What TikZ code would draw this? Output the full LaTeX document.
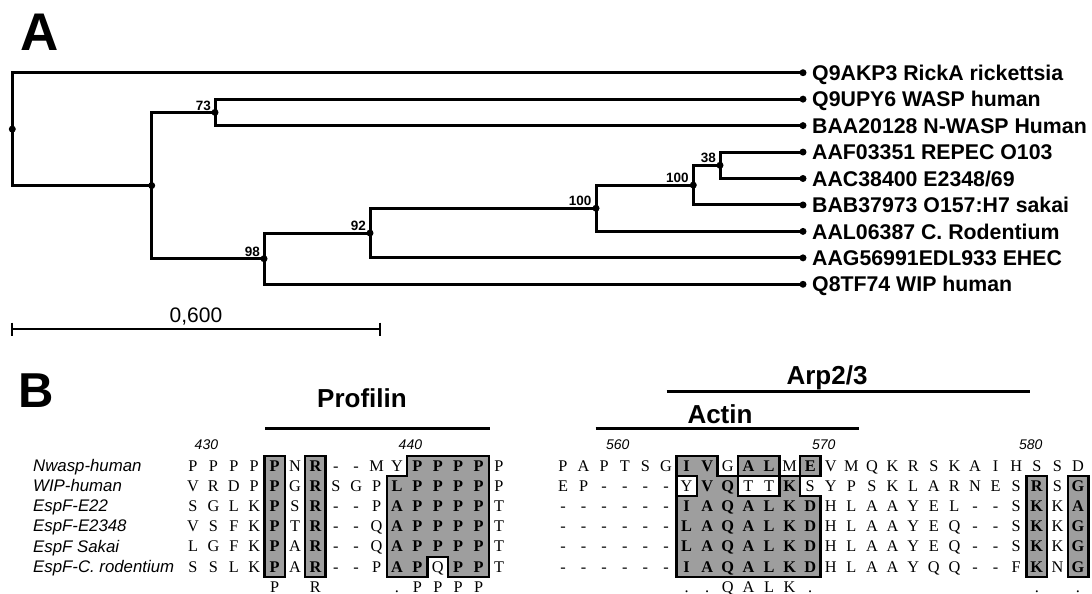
\documentclass[tikz,border=0pt]{standalone}
\usepackage{fontspec}
\setmainfont{Liberation Serif}
\setsansfont{Liberation Sans}
\usetikzlibrary{calc}

\definecolor{boxgrey}{RGB}{158,158,158}
\newcommand\fsz[1]{\fontsize{#1}{#1}\selectfont}
% residue font: bold for conserved (shaded) positions
\newcommand\resfont[1]{\fsz{16.3}\rmfamily\if#1b\bfseries\else\mdseries\fi}

\tikzset{
  branch/.style={line width=3pt, line join=miter, line cap=butt},
  dot/.style={circle, fill=black, inner sep=0pt, minimum size=7pt},
  leaflab/.style={anchor=base west, inner sep=0pt, font=\sffamily\bfseries\fsz{21.3}},
  boot/.style={anchor=south east, inner sep=0pt, font=\sffamily\bfseries\fsz{13.5}},
  res/.style={anchor=base, inner sep=0pt},
  seqname/.style={anchor=base west, inner sep=0pt, font=\sffamily\itshape\fsz{16.8}},
  posnum/.style={anchor=base, inner sep=0pt, font=\sffamily\itshape\fsz{14}},
  domlabel/.style={anchor=base, inner sep=0pt, font=\sffamily\bfseries\fsz{26}},
  domline/.style={line width=3pt},
  scalebar/.style={line width=2.5pt},
  panel/.style={anchor=base west, inner sep=0pt, font=\sffamily\bfseries\fsz{#1}},
  shadebox/.style={fill=boxgrey, draw=black, line width=2.4pt, line join=miter},
  outline/.style={draw=black, line width=2.4pt, line cap=rect},
}

\begin{document}
\begin{tikzpicture}[x=1pt, y=-1pt]
\useasboundingbox (0,0) rectangle (1092,594);
\fill[white] (0,0) rectangle (1092,594);

% ---------------- Panel A: tree ----------------
\node[panel=53] (labA) at (20,51) {A};

% leaves
\node[dot] (l1) at (803,72.7) {};
\node[dot] (l2) at (803,99.15) {};
\node[dot] (l3) at (803,125.6) {};
\node[dot] (l4) at (803,152.05) {};
\node[dot] (l5) at (803,178.5) {};
\node[dot] (l6) at (803,204.95) {};
\node[dot] (l7) at (803,231.4) {};
\node[dot] (l8) at (803,257.85) {};
\node[dot] (l9) at (803,284.3) {};

\node[leaflab] (t1) at (812,80.3) {Q9AKP3 RickA rickettsia};
\node[leaflab] (t2) at (812,106.75) {Q9UPY6 WASP human};
\node[leaflab] (t3) at (812,133.2) {BAA20128 N-WASP Human};
\node[leaflab] (t4) at (812,159.65) {AAF03351 REPEC O103};
\node[leaflab] (t5) at (812,186.1) {AAC38400 E2348/69};
\node[leaflab] (t6) at (812,212.55) {BAB37973 O157:H7 sakai};
\node[leaflab] (t7) at (812,239) {AAL06387 C. Rodentium};
\node[leaflab] (t8) at (812,265.45) {AAG56991EDL933 EHEC};
\node[leaflab] (t9) at (812,291.9) {Q8TF74 WIP human};

% internal nodes
\node[dot] (root) at (12.3,129.1) {};
\node[dot] (n1) at (151.7,185.55) {};
\node[dot] (n73) at (215,112.4) {};
\node[dot] (n98) at (264,258.7) {};
\node[dot] (n92) at (370,233.05) {};
\node[dot] (n100a) at (596,208.25) {};
\node[dot] (n100b) at (693.3,185.1) {};
\node[dot] (n38) at (720,165.3) {};

% branches
\draw[branch] (root.center) |- (l1.center);
\draw[branch] (root.center) |- (n1.center);
\draw[branch] (n1.center) |- (n73.center);
\draw[branch] (n1.center) |- (n98.center);
\draw[branch] (n73.center) |- (l2.center);
\draw[branch] (n73.center) |- (l3.center);
\draw[branch] (n98.center) |- (n92.center);
\draw[branch] (n98.center) |- (l9.center);
\draw[branch] (n92.center) |- (n100a.center);
\draw[branch] (n92.center) |- (l8.center);
\draw[branch] (n100a.center) |- (n100b.center);
\draw[branch] (n100a.center) |- (l7.center);
\draw[branch] (n100b.center) |- (n38.center);
\draw[branch] (n100b.center) |- (l6.center);
\draw[branch] (n38.center) |- (l4.center);
\draw[branch] (n38.center) |- (l5.center);

% bootstrap values
\node[boot] (b73) at ($(n73)+(-4,-2)$) {73};
\node[boot] (b98) at ($(n98)+(-4,-2)$) {98};
\node[boot] (b92) at ($(n92)+(-4,-2)$) {92};
\node[boot] (b100a) at ($(n100a)+(-4.5,-2.5)$) {100};
\node[boot] (b100b) at ($(n100b)+(-4.5,-2.5)$) {100};
\node[boot] (b38) at ($(n38)+(-4,-2.5)$) {38};

% scale bar
\coordinate (sbL) at (12,329);
\coordinate (sbR) at (380,329);
\draw[scalebar] (sbL) -- (sbR);
\draw[scalebar] ($(sbL)+(0,-6.5)$) -- ($(sbL)+(0,6.5)$);
\draw[scalebar] ($(sbR)+(0,-6.5)$) -- ($(sbR)+(0,6.5)$);
\node[anchor=base, inner sep=0pt, font=\sffamily\fsz{21}] (sblab) at (196,322.5) {0,600};

% ---------------- Panel B: alignment ----------------
\node[panel=49] (labB) at (18,407) {B};

% domain bars
\node[domlabel] (hProf) at (362,407.7) {Profilin};
\draw[domline] (265,428) -- (490,428);
\node[domlabel] (hArp) at (827,384.4) {Arp2/3};
\draw[domline] (666.6,391) -- (1029.7,391);
\node[domlabel] (hAct) at (720,423.6) {Actin};
\draw[domline] (595.5,428) -- (858.5,428);

% residue numbers
\node[posnum] (p430) at (206.4,449.3) {430};
\node[posnum] (p440) at (410.4,449.3) {440};
\node[posnum] (p560) at (617.8,449.3) {560};
\node[posnum] (p570) at (823.8,449.3) {570};
\node[posnum] (p580) at (1030.8,449.3) {580};

% sequence names
\foreach \nm [count=\r] in {Nwasp-human, WIP-human, EspF-E22, EspF-E2348, EspF Sakai, EspF-C. rodentium}
  {\node[seqname] (s\r) at (33,{471.2+(\r-1)*20.2}) {\nm};}

% shaded / boxed blocks, left part
\draw[shadebox] (264.4,455.7) rectangle (284.8,576.9);
\draw[shadebox] (305.2,455.7) rectangle (325.6,576.9);
\draw[shadebox] (407.2,455.7) -- (488.8,455.7) -- (488.8,576.9) -- (448,576.9)
  -- (448,556.7) -- (427.6,556.7) -- (427.6,576.9) -- (386.8,576.9)
  -- (386.8,475.9) -- (407.2,475.9) -- cycle;

% shaded / boxed blocks, right part
\draw[shadebox] (676.3,455.7) -- (717.5,455.7) -- (717.5,475.9) -- (738.1,475.9)
  -- (738.1,496.1) -- (779.3,496.1) -- (779.3,475.9) -- (799.9,475.9)
  -- (799.9,496.1) -- (820.5,496.1) -- (820.5,576.9) -- (676.3,576.9)
  -- (676.3,496.1) -- (696.9,496.1) -- (696.9,475.9) -- (676.3,475.9) -- cycle;
\draw[outline] (676.3,475.9) -- (676.3,496.1);
\draw[shadebox] (738.1,455.7) rectangle (779.3,475.9);
\draw[shadebox] (799.9,455.7) rectangle (820.5,475.9);
\draw[shadebox] (1026.5,475.9) rectangle (1047.1,576.9);
\draw[shadebox] (1067.7,475.9) rectangle (1088.3,576.9);

% residues, left part
\foreach \row [count=\r] in {
 {P/n,P/n,P/n,P/n,P/b,N/n,R/b,-/n,-/n,M/n,Y/n,P/b,P/b,P/b,P/b,P/n},
 {V/n,R/n,D/n,P/n,P/b,G/n,R/b,S/n,G/n,P/n,L/b,P/b,P/b,P/b,P/b,P/n},
 {S/n,G/n,L/n,K/n,P/b,S/n,R/b,-/n,-/n,P/n,A/b,P/b,P/b,P/b,P/b,T/n},
 {V/n,S/n,F/n,K/n,P/b,T/n,R/b,-/n,-/n,Q/n,A/b,P/b,P/b,P/b,P/b,T/n},
 {L/n,G/n,F/n,K/n,P/b,A/n,R/b,-/n,-/n,Q/n,A/b,P/b,P/b,P/b,P/b,T/n},
 {S/n,S/n,L/n,K/n,P/b,A/n,R/b,-/n,-/n,P/n,A/b,P/b,Q/n,P/b,P/b,T/n}}
{\foreach \ch/\w [count=\c] in \row
  {\node[res, font=\resfont{\w}] (a-\r-\c) at ({193+(\c-1)*20.4},{471.1+(\r-1)*20.2}) {\ch};}}

% residues, right part
\foreach \row [count=\r] in {
 {P/n,A/n,P/n,T/n,S/n,G/n,I/b,V/b,G/n,A/b,L/b,M/n,E/b,V/n,M/n,Q/n,K/n,R/n,S/n,K/n,A/n,I/n,H/n,S/n,S/n,D/n},
 {E/n,P/n,-/n,-/n,-/n,-/n,Y/n,V/b,Q/b,T/n,T/n,K/b,S/n,Y/n,P/n,S/n,K/n,L/n,A/n,R/n,N/n,E/n,S/n,R/b,S/n,G/b},
 {-/n,-/n,-/n,-/n,-/n,-/n,I/b,A/b,Q/b,A/b,L/b,K/b,D/b,H/n,L/n,A/n,A/n,Y/n,E/n,L/n,-/n,-/n,S/n,K/b,K/n,A/b},
 {-/n,-/n,-/n,-/n,-/n,-/n,L/b,A/b,Q/b,A/b,L/b,K/b,D/b,H/n,L/n,A/n,A/n,Y/n,E/n,Q/n,-/n,-/n,S/n,K/b,K/n,G/b},
 {-/n,-/n,-/n,-/n,-/n,-/n,L/b,A/b,Q/b,A/b,L/b,K/b,D/b,H/n,L/n,A/n,A/n,Y/n,E/n,Q/n,-/n,-/n,S/n,K/b,K/n,G/b},
 {-/n,-/n,-/n,-/n,-/n,-/n,I/b,A/b,Q/b,A/b,L/b,K/b,D/b,H/n,L/n,A/n,A/n,Y/n,Q/n,Q/n,-/n,-/n,F/n,K/b,N/n,G/b}}
{\foreach \ch/\w [count=\c] in \row
  {\node[res, font=\resfont{\w}] (b-\r-\c) at ({563+(\c-1)*20.6},{471.1+(\r-1)*20.2}) {\ch};}}

% consensus line
\foreach \c/\ch in {5/P,7/R,11/.,12/P,13/P,14/P,15/P}
  {\node[res, font=\resfont{n}] (ca-\c) at ({193+(\c-1)*20.4},592.3) {\ch};}
\foreach \c/\ch in {7/.,8/.,9/Q,10/A,11/L,12/K,13/.,24/.,26/.}
  {\node[res, font=\resfont{n}] (cb-\c) at ({563+(\c-1)*20.6},592.3) {\ch};}
\end{tikzpicture}
\end{document}
